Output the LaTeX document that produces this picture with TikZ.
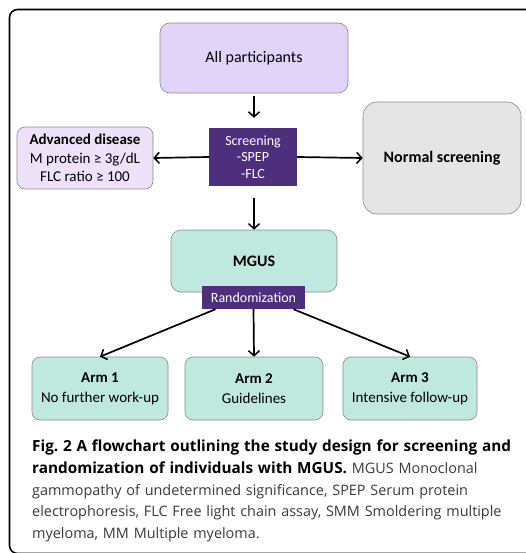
\documentclass[tikz,border=0pt]{standalone}
\usepackage{fontspec}
\setmainfont{Carlito}
\newfontfamily\capfont{Open Sans}
\usetikzlibrary{arrows.meta}
\definecolor{lav}{HTML}{E2D3F9}
\definecolor{lavlight}{HTML}{EEE2FB}
\definecolor{deeppurple}{HTML}{4E2F7D}
\definecolor{mint}{HTML}{BFE8DF}
\definecolor{greybox}{HTML}{E5E5E5}
\definecolor{edgegrey}{HTML}{8A8A8A}
\definecolor{captext}{HTML}{3A3A3A}
\tikzset{
  softbox/.style={draw=edgegrey, line width=0.6pt, align=center, inner sep=2pt},
  darkbox/.style={fill=deeppurple, text=white, align=center, inner sep=2pt},
  flow/.style={line width=1.7pt, -{Straight Barb[length=5pt,width=11pt,line width=1.5pt]}},
}
\newcommand{\capbold}[1]{{\color{black}\bfseries\fontsize{15.3}{21.6}\selectfont #1}}
\begin{document}
\begin{tikzpicture}[x=1pt,y=-1pt]
\useasboundingbox (0,0) rectangle (526,553);
% outer frame, open to the right and bottom
\begin{scope}
\clip (0,0) rectangle (526,553);
\draw[line width=1.6pt, rounded corners=8pt] (9.5,9.5) rectangle (580,553.5);
\end{scope}

\node[softbox, fill=lav, rounded corners=10pt, minimum width=188pt, minimum height=70pt,
      font=\fontsize{16}{19}\selectfont] (allp) at (254,58) {All participants};
\node[darkbox, minimum width=88pt, minimum height=58pt,
      font=\fontsize{14}{16.5}\selectfont] (screen) at (253,157) {Screening\\-SPEP\\-FLC};
\node[softbox, fill=lavlight, rounded corners=8pt, minimum width=136pt, minimum height=62pt,
      font=\fontsize{15}{18.5}\selectfont] (adv) at (85,158)
      {\textbf{Advanced disease}\\M protein ≥ 3g/dL\\FLC ratio ≥ 100};
\node[softbox, fill=greybox, rounded corners=14pt, minimum width=158pt, minimum height=112pt,
      font=\fontsize{16}{19}\selectfont\bfseries] (normal) at (442,158) {Normal screening};
\node[softbox, fill=mint, rounded corners=10pt, minimum width=166pt, minimum height=62pt,
      font=\fontsize{16}{19}\selectfont\bfseries] (mgus) at (254,261) {MGUS};
\node[darkbox, minimum width=103pt, minimum height=23pt,
      font=\fontsize{14}{16}\selectfont] (rand) at (253.5,297.5) {Randomization};
\node[softbox, fill=mint, rounded corners=8pt, minimum width=136pt, minimum height=63pt,
      font=\fontsize{15}{20}\selectfont] (arm1) at (100,388.5) {\textbf{Arm 1}\\No further work-up};
\node[softbox, fill=mint, rounded corners=8pt, minimum width=138pt, minimum height=63pt,
      font=\fontsize{15}{20}\selectfont] (arm2) at (254,388.5) {\textbf{Arm 2}\\Guidelines};
\node[softbox, fill=mint, rounded corners=8pt, minimum width=134pt, minimum height=63pt,
      font=\fontsize{15}{20}\selectfont] (arm3) at (410,388.5) {\textbf{Arm 3}\\Intensive follow-up};

% connectors
\draw[flow, shorten <=3pt, shorten >=10pt] (allp.south) -- (allp.south |- screen.north);
\draw[flow] (screen.west) -- (adv.east);
\draw[flow] (screen.east) -- (normal.west);
\draw[flow, shorten <=12pt] (screen.south -| mgus.north) -- (mgus.north);
\draw[flow] (rand.south) -- (arm2.north);
\draw[flow] ([xshift=-38pt]rand.south) -- (arm1.north);
\draw[flow] ([xshift=40pt]rand.south) -- (arm3.north);

% caption, one line per row
\node[anchor=north west, inner sep=0pt, text width=600pt, align=left, text=captext,
      font=\capfont\fontsize{14.4}{21.6}\selectfont\frenchspacing] (cap) at (32,440)
{\capbold{Fig. 2 A flowchart outlining the study design for screening and}\\
 \capbold{randomization of individuals with MGUS.} MGUS Monoclonal\\
 gammopathy of undetermined significance, SPEP Serum protein\\
 electrophoresis, FLC Free light chain assay, SMM Smoldering multiple\\
 myeloma, MM Multiple myeloma.};
\end{tikzpicture}
\end{document}
